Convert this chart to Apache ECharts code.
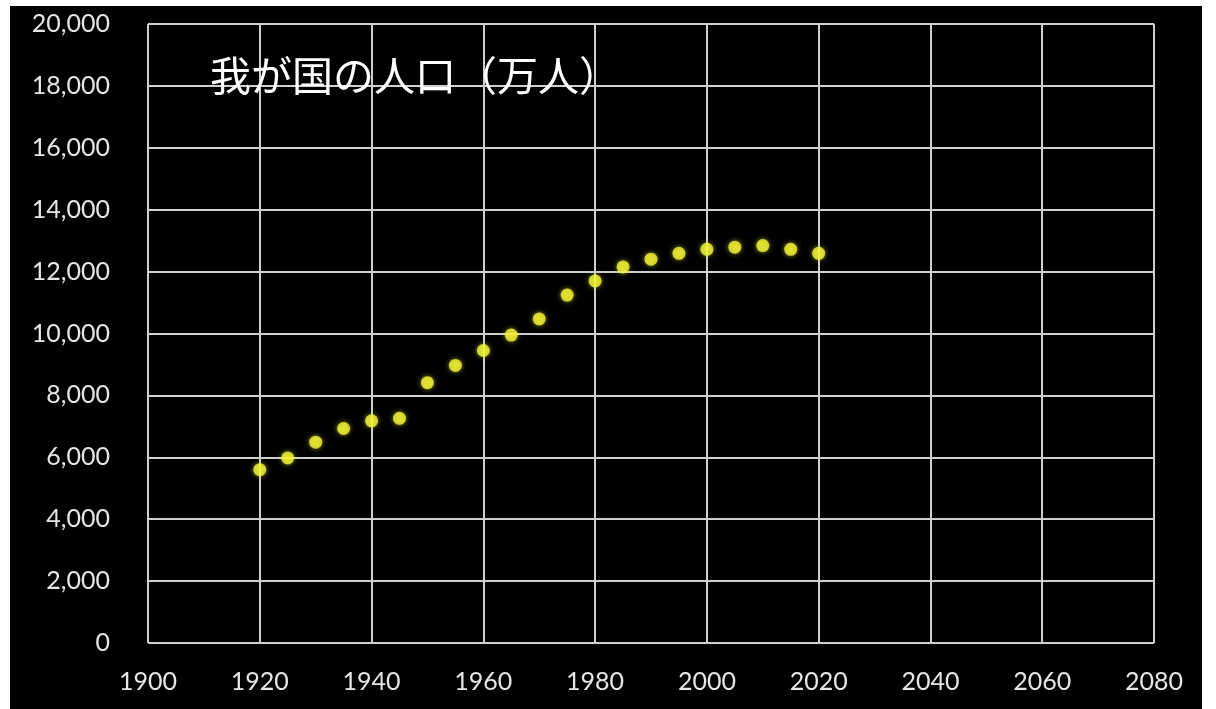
<!DOCTYPE html>
<html>
<head>
<meta charset="utf-8">
<script src="https://cdn.jsdelivr.net/npm/echarts@6/dist/echarts.min.js"></script>
<style>
  html, body { margin: 0; padding: 0; background: #ffffff; width: 1216px; height: 709px; overflow: hidden; }
  #chart { position: absolute; left: 10px; top: 6px; width: 1192px; height: 703px; background: #000000; }
</style>
</head>
<body>
<div id="chart"></div>
<script>
// Census years and population (ten-thousands of people)
const years = [1920, 1925, 1930, 1935, 1940, 1945, 1950, 1955, 1960, 1965, 1970,
               1975, 1980, 1985, 1990, 1995, 2000, 2005, 2010, 2015, 2020];
const population = [5600, 5980, 6490, 6930, 7180, 7260, 8410, 8970, 9450, 9950, 10470,
                    11240, 11700, 12150, 12400, 12590, 12720, 12790, 12840, 12720, 12590];

const titleText = '我が国の人口（万人）';
const xRange = [1900, 2080, 20];
const yRange = [0, 20000, 2000];

const chart = echarts.init(document.getElementById('chart'), null, { renderer: 'canvas' });

const labelFont = { color: '#e6e6e6', fontFamily: 'Lato, "Open Sans", sans-serif', fontSize: 25 };
const gridLine = { lineStyle: { color: '#cfcfcf', width: 2 } };

chart.setOption({
  backgroundColor: '#000000',
  animation: false,
  grid: { left: 138, top: 18, right: 48, bottom: 66, containLabel: false },
  graphic: [{
    type: 'text',
    left: 200,
    top: 49,
    z: 100,
    style: {
      text: titleText,
      fill: '#ffffff',
      fontSize: 41,
      fontFamily: '"Noto Sans CJK JP", sans-serif'
    }
  }],
  xAxis: {
    type: 'value',
    min: xRange[0], max: xRange[1], interval: xRange[2],
    axisLine: { show: false },
    axisTick: { show: false },
    splitLine: Object.assign({ show: true }, gridLine),
    axisLabel: Object.assign({ margin: 26, formatter: v => String(v) }, labelFont)
  },
  yAxis: {
    type: 'value',
    min: yRange[0], max: yRange[1], interval: yRange[2],
    axisLine: { show: false },
    axisTick: { show: false },
    splitLine: Object.assign({ show: true }, gridLine),
    axisLabel: Object.assign({ margin: 38, formatter: v => v.toLocaleString('en-US') }, labelFont)
  },
  series: [{
    type: 'scatter',
    symbol: 'circle',
    symbolSize: 13,
    z: 5,
    itemStyle: { color: '#f6f63a', shadowBlur: 5, shadowColor: 'rgba(230,230,40,0.8)' },
    data: years.map((y, i) => [y, population[i]])
  }]
});
</script>
</body>
</html>
